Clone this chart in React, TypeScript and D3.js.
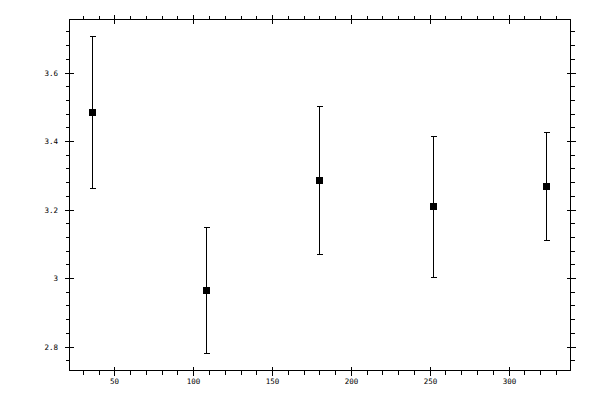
import { useEffect, useRef } from "react";
import * as d3 from "d3";

const xValues = [36, 108, 180, 252, 324];
const yMeans = [3.486, 2.966, 3.285, 3.209, 3.268];
const yErrors = [0.222, 0.184, 0.216, 0.207, 0.158];

const xMajorTicks = [50, 100, 150, 200, 250, 300];
const yMajorTicks = [2.8, 3.0, 3.2, 3.4, 3.6];

const WIDTH = 600;
const HEIGHT = 400;
const LEFT = 69.5;
const RIGHT = 570.5;
const TOP = 19.5;
const BOTTOM = 370.5;

function ErrorChart() {
  const svgRef = useRef<SVGSVGElement>(null);

  useEffect(() => {
    if (!svgRef.current) return;
    const svg = d3.select(svgRef.current);
    svg.selectAll("*").remove();

    const x = d3.scaleLinear().domain([21.5, 339.3]).range([LEFT, RIGHT]);
    const y = d3.scaleLinear().domain([2.73, 3.755]).range([BOTTOM, TOP]);

    const xMinor = d3.range(30, 340, 10).filter((v) => v % 50 !== 0);
    const yMinor = d3
      .range(2.76, 3.75, 0.04)
      .map((v) => +v.toFixed(2))
      .filter((v) => Math.abs(v * 5 - Math.round(v * 5)) > 1e-6);

    const g = svg
      .append("g")
      .attr("stroke", "#000")
      .attr("stroke-width", 1)
      .attr("shape-rendering", "crispEdges");

    // frame
    g.append("rect")
      .attr("x", LEFT)
      .attr("y", TOP)
      .attr("width", RIGHT - LEFT)
      .attr("height", BOTTOM - TOP)
      .attr("fill", "none");

    const px = (v: number) => Math.round(x(v)) + 0.5;
    const py = (v: number) => Math.round(y(v)) + 0.5;

    // x ticks, bottom and top
    xMajorTicks.forEach((v) => {
      g.append("line").attr("x1", px(v)).attr("x2", px(v)).attr("y1", BOTTOM - 4).attr("y2", BOTTOM + 5);
      g.append("line").attr("x1", px(v)).attr("x2", px(v)).attr("y1", TOP - 5).attr("y2", TOP + 4);
    });
    xMinor.forEach((v) => {
      g.append("line").attr("x1", px(v)).attr("x2", px(v)).attr("y1", BOTTOM).attr("y2", BOTTOM + 4);
      g.append("line").attr("x1", px(v)).attr("x2", px(v)).attr("y1", TOP - 4).attr("y2", TOP);
    });

    // y ticks, left and right
    yMajorTicks.forEach((v) => {
      g.append("line").attr("y1", py(v)).attr("y2", py(v)).attr("x1", LEFT - 5).attr("x2", LEFT + 4);
      g.append("line").attr("y1", py(v)).attr("y2", py(v)).attr("x1", RIGHT - 4).attr("x2", RIGHT + 5);
    });
    yMinor.forEach((v) => {
      g.append("line").attr("y1", py(v)).attr("y2", py(v)).attr("x1", LEFT - 4).attr("x2", LEFT);
      g.append("line").attr("y1", py(v)).attr("y2", py(v)).attr("x1", RIGHT).attr("x2", RIGHT + 4);
    });

    // tick labels
    const labels = svg
      .append("g")
      .attr("font-family", "'DejaVu Sans Mono', monospace")
      .attr("font-size", "7.5px")
      .attr("fill", "#000");

    labels
      .selectAll("text.xl")
      .data(xMajorTicks)
      .join("text")
      .attr("class", "xl")
      .attr("x", (d) => px(d))
      .attr("y", 384)
      .attr("text-anchor", "middle")
      .text((d) => String(d));

    labels
      .selectAll("text.yl")
      .data(yMajorTicks)
      .join("text")
      .attr("class", "yl")
      .attr("x", 58)
      .attr("y", (d) => py(d) + 2.5)
      .attr("text-anchor", "end")
      .text((d) => d3.format("~g")(d));

    // error bars
    const bars = svg
      .append("g")
      .attr("stroke", "#000")
      .attr("stroke-width", 1)
      .attr("shape-rendering", "crispEdges");

    xValues.forEach((xv, i) => {
      const cx = px(xv);
      const top = py(yMeans[i] + yErrors[i]);
      const bot = py(yMeans[i] - yErrors[i]);
      bars.append("line").attr("x1", cx).attr("x2", cx).attr("y1", top).attr("y2", bot);
      bars.append("line").attr("x1", cx - 3).attr("x2", cx + 3).attr("y1", top).attr("y2", top);
      bars.append("line").attr("x1", cx - 3).attr("x2", cx + 3).attr("y1", bot).attr("y2", bot);
    });

    // markers
    svg
      .append("g")
      .selectAll("rect")
      .data(xValues)
      .join("rect")
      .attr("x", (d) => Math.round(x(d)) - 3)
      .attr("y", (_, i) => Math.round(y(yMeans[i])) - 3)
      .attr("width", 7)
      .attr("height", 7)
      .attr("fill", "#000")
      .attr("shape-rendering", "crispEdges");
  }, []);

  return <svg ref={svgRef} width={WIDTH} height={HEIGHT} style={{ display: "block" }} />;
}

export default function App() {
  return (
    <div style={{ position: "fixed", left: 0, top: 0, background: "#fff" }}>
      <ErrorChart />
    </div>
  );
}
